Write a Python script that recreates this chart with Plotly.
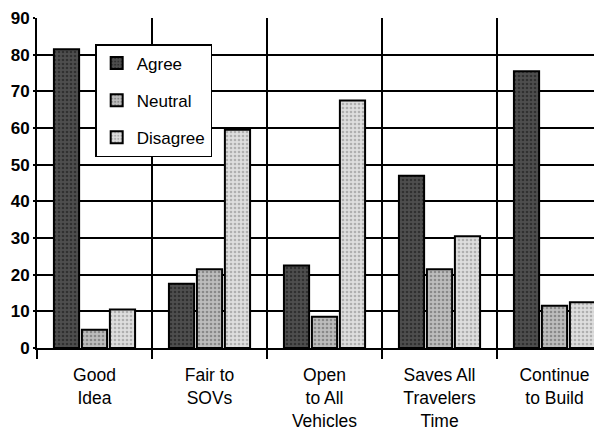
import plotly.graph_objects as go

categories = ["Good<br>Idea", "Fair to<br>SOVs", "Open<br>to All<br>Vehicles", "Saves All<br>Travelers<br>Time", "Continue<br>to Build"]
agree = [81.5, 17.5, 22.5, 47, 75.5]
neutral = [5, 21.5, 8.5, 21.5, 11.5]
disagree = [10.5, 59.5, 67.5, 30.5, 12.5]
y_ticks = [0, 10, 20, 30, 40, 50, 60, 70, 80, 90]

series = [
    ("Agree", agree, "#4e4e4e", "#111111"),
    ("Neutral", neutral, "#bdbdbd", "#555555"),
    ("Disagree", disagree, "#dedede", "#808080"),
]

FONT = "Liberation Sans, Arial, Helvetica, sans-serif"

fig = go.Figure()
for i, (name, vals, bg, fg) in enumerate(series):
    fig.add_trace(go.Bar(
        name=name, x=categories, y=vals, legendgroup=name,
        marker=dict(color=bg, line=dict(color="black", width=2),
                    pattern=dict(shape=".", bgcolor=bg, fgcolor=fg, size=4, solidity=0.35)),
    ))

# page body has an 8px default margin; figure sized to fill the rest of the window
fig.update_layout(
    width=594, height=423,
    margin=dict(l=29, r=0, t=10, b=83, autoexpand=False),
    paper_bgcolor="white", plot_bgcolor="white",
    barmode="group", bargap=0.27, bargroupgap=0.1,
    font=dict(family=FONT, color="black", size=17),
    legend=dict(x=0.103, y=0.921, xanchor="left", yanchor="top",
                bgcolor="white", bordercolor="black", borderwidth=1.5,
                tracegroupgap=12, font=dict(size=17)),
    showlegend=True,
)
fig.update_xaxes(
    type="category", tickson="boundaries", range=[-0.5, 4.413],
    showgrid=True, gridcolor="black", gridwidth=2,
    ticks="outside", ticklen=9, tickwidth=2, tickcolor="black",
    showline=True, linecolor="black", linewidth=2,
    tickfont=dict(size=17.5), tickangle=0, automargin=False,
    ticklabelstandoff=10,
)
fig.update_yaxes(
    range=[0, 90], tickvals=y_ticks,
    showgrid=True, gridcolor="black", gridwidth=2,
    ticks="outside", ticklen=2, tickwidth=2, tickcolor="black",
    showline=True, linecolor="black", linewidth=2,
    tickfont=dict(size=17, family=FONT, weight="bold"),
    zeroline=False, automargin=False,
)
fig.write_html("out.html")
